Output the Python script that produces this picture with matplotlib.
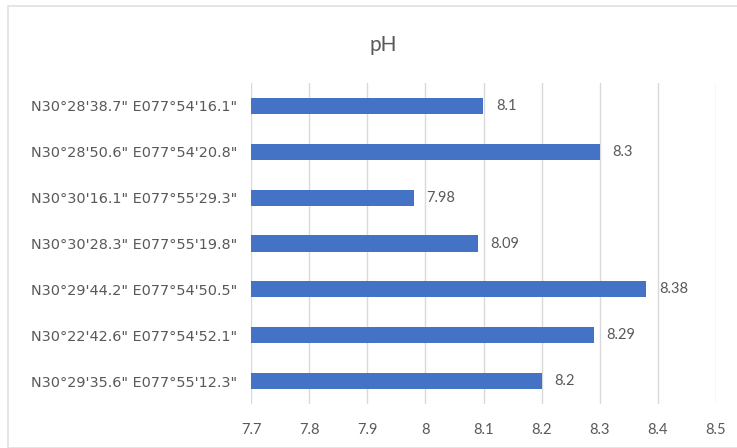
import matplotlib
matplotlib.use("Agg")
import matplotlib.pyplot as plt
from matplotlib.patches import Rectangle

sites = [
    "N30°28'38.7\" E077°54'16.1\"",
    "N30°28'50.6\" E077°54'20.8\"",
    "N30°30'16.1\" E077°55'29.3\"",
    "N30°30'28.3\" E077°55'19.8\"",
    "N30°29'44.2\" E077°54'50.5\"",
    "N30°22'42.6\" E077°54'52.1\"",
    "N30°29'35.6\" E077°55'12.3\"",
]
ph_values = [8.1, 8.3, 7.98, 8.09, 8.38, 8.29, 8.2]
value_labels = ["8.1", "8.3", "7.98", "8.09", "8.38", "8.29", "8.2"]
x_ticks = [7.7, 7.8, 7.9, 8.0, 8.1, 8.2, 8.3, 8.4, 8.5]
x_tick_labels = ["7.7", "7.8", "7.9", "8", "8.1", "8.2", "8.3", "8.4", "8.5"]

plt.rcParams["font.family"] = ["Lato", "DejaVu Sans"]
text_color = "#595959"

W, H = 737, 448
fig = plt.figure(figsize=(W / 100, H / 100), dpi=100)

# chart area outline
fig.patches.append(Rectangle((8 / W, 0), 1.0, 1 - 6 / H, transform=fig.transFigure,
                             fill=False, edgecolor="#e0e0e0", linewidth=1.2))

ax = fig.add_axes([251 / W, 1 - 404 / H, (716 - 251) / W, (404 - 83) / H])
ypos = list(range(len(sites)))
base = x_ticks[0]
ax.barh(ypos, [v - base for v in ph_values], left=base, height=0.35,
        color="#4472C4", zorder=3)
for y, v, lab in zip(ypos, ph_values, value_labels):
    ax.text(v + 0.022, y, lab, va="center", ha="left", fontsize=10.5, color=text_color)

ax.set_xlim(x_ticks[0], x_ticks[-1])
ax.set_ylim(len(sites) - 0.5, -0.5)
ax.set_yticks(ypos)
ax.set_yticklabels(sites, fontsize=10.4, color=text_color, family=["DejaVu Sans"])
ax.set_xticks(x_ticks)
ax.set_xticklabels(x_tick_labels, fontsize=10.5, color=text_color)
ax.tick_params(axis="both", length=0)
ax.tick_params(axis="y", pad=10)
ax.tick_params(axis="x", pad=14)
ax.grid(axis="x", color="#d9d9d9", linewidth=1, zorder=0)
for s in ax.spines.values():
    s.set_visible(False)

fig.text(383 / W, 1 - 45 / H, "pH", ha="center", va="center", fontsize=15, color=text_color)

fig.savefig("out.png", dpi=100)
